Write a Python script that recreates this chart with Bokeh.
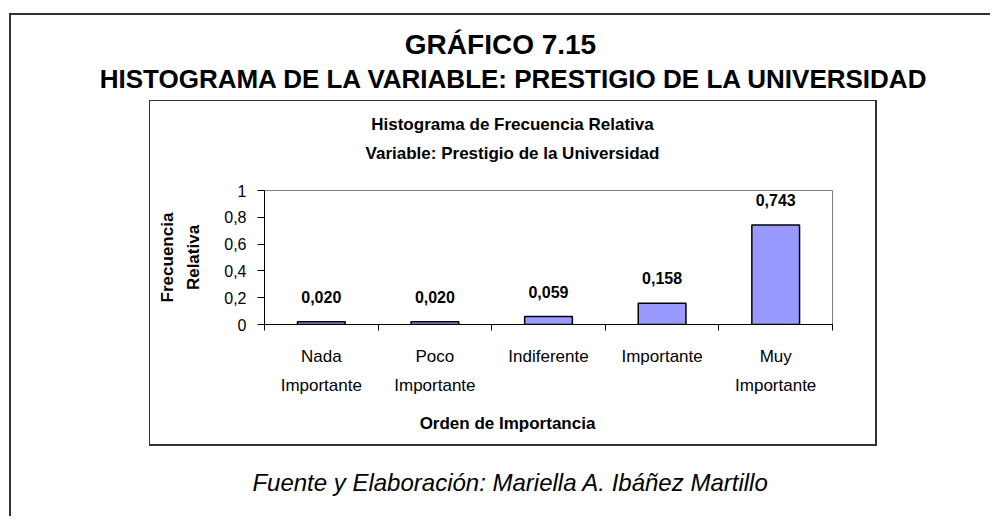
from bokeh.plotting import figure
from bokeh.models import ColumnDataSource, FixedTicker, LabelSet, Label, Range1d
from bokeh.core.properties import value
from bokeh.embed import file_html
from bokeh.resources import INLINE

# ---------------- data ----------------
categories = ["Nada\nImportante", "Poco\nImportante", "Indiferente",
              "Importante", "Muy\nImportante"]
freq_rel = [0.020, 0.020, 0.059, 0.158, 0.743]
value_labels = ["0,020", "0,020", "0,059", "0,158", "0,743"]
y_ticks = [0.0, 0.2, 0.4, 0.6, 0.8, 1.0]
y_tick_labels = ["0", "0,2", "0,4", "0,6", "0,8", "1"]

main_title = "GRÁFICO 7.15"
sub_title = "HISTOGRAMA DE LA VARIABLE: PRESTIGIO DE LA UNIVERSIDAD"
chart_title1 = "Histograma de Frecuencia Relativa"
chart_title2 = "Variable: Prestigio de la Universidad"
y_title = "Frecuencia\nRelativa"
x_title = "Orden de Importancia"
footer = "Fuente y Elaboración: Mariella A. Ibáñez Martillo"

FONT = "Liberation Sans"

# ---------------- layout (page pixels) ----------------
W, H = 990, 516
F_LEFT, F_RIGHT, F_TOP, F_BOTTOM = 264, 832, 190, 324   # plot frame

# frame lines drawn as CSS background layers: (x, y, w, h)
lines = [
    (9, 13, 2, H - 13),        # outer box, left
    (9, 13, W - 9, 2),         # outer box, top
    (149, 100, 1, 346),        # chart box, left
    (149, 100, 728, 1),        # chart box, top
    (875, 100, 2, 346),        # chart box, right
    (149, 444, 728, 2),        # chart box, bottom
]
bg = ", ".join(f"linear-gradient(#333333, #333333) {x}px {y}px / {w}px {h}px no-repeat"
               for x, y, w, h in lines) + ", white"

centers = [i + 0.5 for i in range(len(categories))]
bounds = [float(i) for i in range(len(categories) + 1)]

src = ColumnDataSource(dict(x=centers, top=freq_rel, lab=value_labels))

p = figure(width=W, height=H, output_backend="svg", toolbar_location=None,
           x_range=Range1d(0, len(categories)), y_range=Range1d(0, 1),
           min_border_left=F_LEFT,
           min_border_right=W - F_RIGHT,
           min_border_top=F_TOP,
           min_border_bottom=H - F_BOTTOM,
           background_fill_color=None, border_fill_color=None,
           styles={"background": bg})

p.outline_line_color = "#808080"
p.outline_line_width = 1
p.xgrid.visible = False
p.ygrid.visible = False

p.vbar(x="x", top="top", width=0.42, bottom=0, source=src,
       fill_color="#9999FF", line_color="black", line_width=1.5)

p.add_layout(LabelSet(x="x", y="top", text="lab", source=src,
                      y_offset=25, text_align="center", text_baseline="middle",
                      text_font=value(FONT), text_font_style="bold",
                      text_font_size="16px", text_color="black"))

# y axis
ya = p.yaxis[0]
ya.ticker = FixedTicker(ticks=y_ticks)
ya.major_label_overrides = {t: l for t, l in zip(y_ticks, y_tick_labels)}
ya.major_tick_out = 7
ya.major_tick_in = 0
ya.minor_tick_line_color = None
ya.axis_line_color = "black"
ya.major_tick_line_color = "black"
ya.major_label_standoff = 11
ya.major_label_text_font = FONT
ya.major_label_text_font_size = "16px"
ya.major_label_text_color = "black"
ya.axis_label = y_title
ya.axis_label_text_font = FONT
ya.axis_label_text_font_style = "bold"
ya.axis_label_text_font_size = "17px"
ya.axis_label_text_line_height = 1.37
ya.axis_label_standoff = 18
ya.axis_label_text_color = "black"

# x axis: ticks at category boundaries, labels at centers
xa = p.xaxis[0]
xa.ticker = FixedTicker(ticks=centers, minor_ticks=bounds)
xa.major_label_overrides = {c: n for c, n in zip(centers, categories)}
xa.major_tick_out = 6
xa.major_tick_in = 0
xa.major_tick_line_color = None
xa.minor_tick_out = 6
xa.minor_tick_in = 0
xa.minor_tick_line_color = "black"
xa.axis_line_color = "black"
xa.major_label_standoff = 16
xa.major_label_text_font = FONT
xa.major_label_text_font_size = "17px"
xa.major_label_text_line_height = 1.555
xa.major_label_text_color = "black"

# free texts: labels stacked in the "above" side panel (not clipped);
# each is positioned relative to the bottom-left of its own panel.
EM_H = 1.117
texts = [
    # text, centre x, centre y (page px), size, style
    (chart_title2, 512, 153, 17, "bold"),
    (chart_title1, 512, 124, 17, "bold"),
    (sub_title, 514, 78, 26, "bold"),
    (main_title, 500, 45, 28, "bold"),
    (x_title, 507, 424, 17, "bold"),
    (footer, 510, 483, 24, "italic"),
]
panel_bottom = F_TOP
for txt, cx, cy, size, style in texts:
    p.add_layout(Label(x=cx - F_LEFT, y=panel_bottom - cy,
                       x_units="screen", y_units="screen",
                       text=txt, text_align="center", text_baseline="middle",
                       text_font=FONT, text_font_style=style,
                       text_font_size=f"{size}px", text_color="black"),
                 "above")
    panel_bottom -= round(size * EM_H)

open("out.html", "w").write(file_html(p, INLINE))
